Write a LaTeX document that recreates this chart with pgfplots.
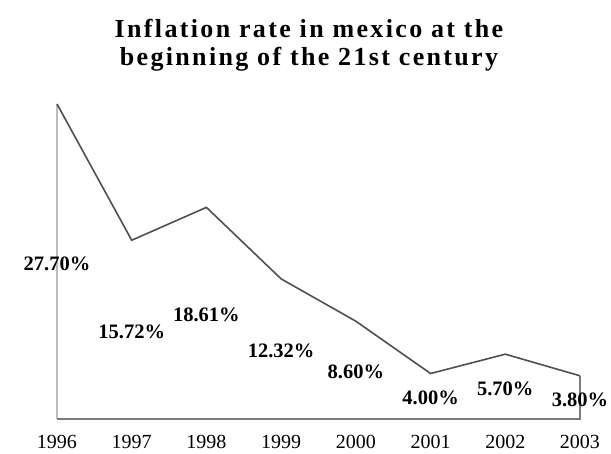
\documentclass[border=0pt]{standalone}
\usepackage{pgfplots}
\pgfplotsset{compat=1.18}
\usepackage{fontspec}
\setmainfont{Liberation Serif}
\newfontfamily\titlefont[LetterSpace=9]{Liberation Serif}
\definecolor{linecol}{HTML}{505050}
\definecolor{axcol}{HTML}{7A7A7A}
\begin{document}
\begin{tikzpicture}
\useasboundingbox (-57pt,-34pt) rectangle (554pt,419pt);
\begin{axis}[
  at={(0,0)}, anchor=south west,
  width=523pt, height=315pt, scale only axis,
  xmin=1996, xmax=2003, ymin=0, ymax=27.7,
  axis line style={draw=none},
  ytick=\empty,
  xtick={1996,1997,1998,1999,2000,2001,2002,2003},
  major tick length=0pt,
  clip=false,
  /pgf/number format/1000 sep={},
  /pgf/number format/assume math mode=true,
  xticklabel style={font=\fontsize{20}{24}\selectfont, yshift=-12.5pt},
]
\addplot[draw=axcol!50, line width=1.2pt] coordinates {(1996,0) (1996,27.7)};
\addplot[draw=axcol, line width=1.6pt] coordinates {(1996,0) (2003,0) (2003,3.8)};
\addplot[draw=linecol, line width=1.6pt, mark=none] coordinates {
(1996,27.70) (1997,15.72) (1998,18.61) (1999,12.32) (2000,8.60) (2001,4.00) (2002,5.70) (2003,3.80)};
\addplot[draw=none, mark=none, point meta=explicit,
  nodes near coords={\pgfmathprintnumber[fixed, fixed zerofill, precision=2, assume math mode=true]{\pgfplotspointmeta}\%},
  nodes near coords style={anchor=center, yshift=-2pt, font=\bfseries\fontsize{20.5}{24}\selectfont, text=black}]
  table[x=x, y=y, meta=v] {
x y v
1996 13.85 27.70
1997 7.86 15.72
1998 9.305 18.61
1999 6.16 12.32
2000 4.30 8.60
2001 2.00 4.00
2002 2.85 5.70
2003 1.90 3.80
};
\end{axis}
\node[align=center, font=\titlefont\bfseries\fontsize{26}{28}\selectfont] at (252pt,374pt) {Inflation rate in mexico at the\\beginning of the 21st century};
\end{tikzpicture}
\end{document}
